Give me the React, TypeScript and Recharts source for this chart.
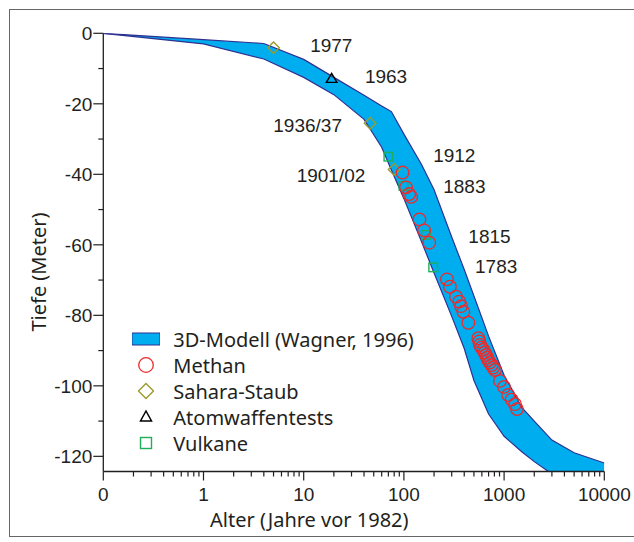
import { ComposedChart, Area, Scatter, XAxis, YAxis, Legend, Label } from "recharts";

// 3D model band: age (years before 1982) with shallow and deep edge of depth (m)
const bandAges = [0, 1, 4, 10, 20, 40, 60, 75, 100, 150, 200, 300, 400, 500, 700, 1000, 1500, 2000, 3000, 5000, 10000];
const bandTop = [0, -1.8, -2.9, -7.4, -12.5, -17.6, -20.6, -22.2, -28.6, -37.2, -44.4, -57.8, -67.0, -74.5, -85.9, -97.0, -106.1, -110.0, -115.4, -119.0, -121.9];
const bandBottom = [0, -3.0, -7.3, -12.5, -17.4, -24.4, -32.3, -38.8, -46.9, -59.1, -68.0, -80.3, -89.4, -98.5, -108.0, -114.3, -118.7, -121.5, -125.0, -128.0, -131.0];

const methanAges = [97, 105, 113, 118, 143, 159, 179, 269, 288, 331, 357, 372, 392, 440, 553, 565, 575, 595, 620, 640, 660, 680, 695, 720, 752, 780, 811, 910, 998, 1100, 1190, 1285, 1345];
const methanDepths = [-39.5, -43.7, -45.6, -46.4, -52.8, -55.9, -59.4, -69.8, -71.9, -74.7, -76.1, -77.4, -79.0, -82.1, -86.5, -87.4, -88.4, -89.1, -89.8, -90.6, -91.3, -92.0, -92.7, -93.4, -94.1, -94.8, -95.5, -98.6, -100.3, -102.6, -103.9, -105.2, -106.6];

const saharaAges = [5, 46, 80];
const saharaDepths = [-4.1, -25.5, -38.6];

const atomAges = [19];
const atomDepths = [-12.8];

const vulkanAges = [70, 99, 166, 196];
const vulkanDepths = [-35.0, -43.3, -57.2, -66.4];

// year annotations (anchor = left end of text baseline)
const yearTexts = ["1977", "1963", "1936/37", "1912", "1901/02", "1883", "1815", "1783"];
const yearAges = [11.6, 40.8, 4.97, 196, 8.5, 247, 440, 513];
const yearDepths = [-5.4, -14.2, -27.9, -36.4, -42.1, -45.4, -59.6, -68.1];

const xMajor = [0, 1, 10, 100, 1000, 10000];
const yTicks = [0, -10, -20, -30, -40, -50, -60, -70, -80, -90, -100, -110, -120];

// age 0 sits one decade left of 1 on the log axis
const ZERO_AGE = 0.1;
const toAxis = (a: number) => (a === 0 ? ZERO_AGE : a);

const bandData = bandAges.map((a, i) => ({ age: toAxis(a), band: [bandBottom[i], bandTop[i]] }));
const pts = (ages: number[], depths: number[]) => ages.map((a, i) => ({ age: a, depth: depths[i] }));
const methanData = pts(methanAges, methanDepths);
const saharaData = pts(saharaAges, saharaDepths);
const atomData = pts(atomAges, atomDepths);
const vulkanData = pts(vulkanAges, vulkanDepths);
const yearData = yearTexts.map((t, i) => ({ age: yearAges[i], depth: yearDepths[i], text: t }));

const xTicks: number[] = [];
xMajor.map(toAxis).forEach((m, i, arr) => {
  xTicks.push(m);
  if (i < arr.length - 1) for (let k = 2; k <= 9; k++) xTicks.push(m * k);
});

const INK = "#231f20";
const ARIAL = "'Liberation Sans', Arial, Helvetica, sans-serif";
const SANS = "'Noto Sans', 'Open Sans', sans-serif";
const RED = "#ee2a2a";
const OLIVE = "#9a9a2e";
const GREEN = "#1fae5a";

const isMajor = (v: number) => Math.abs(Math.log10(v) - Math.round(Math.log10(v))) < 1e-6;

const XTick = (props: any) => {
  const { x, y, payload } = props;
  const v = payload.value;
  const major = isMajor(v);
  return (
    <g>
      <line x1={x} x2={x} y1={y} y2={y + (major ? 9 : 5)} stroke={INK} strokeWidth={1.2} />
      {major && (
        <text x={x} y={y + 29} textAnchor="middle" fontFamily={ARIAL} fontSize={19} fill={INK}>
          {Math.abs(v - ZERO_AGE) < 1e-9 ? "0" : String(Math.round(v))}
        </text>
      )}
    </g>
  );
};

const YTick = (props: any) => {
  const { x, y, payload } = props;
  const v = payload.value;
  const major = v % 20 === 0;
  return (
    <g>
      <line x1={x} x2={x - (major ? 10 : 5)} y1={y} y2={y} stroke={INK} strokeWidth={1.2} />
      {major && (
        <text x={x - 11} y={y + 7} textAnchor="end" fontFamily={ARIAL} fontSize={19} fill={INK}>
          {v}
        </text>
      )}
    </g>
  );
};

const Circle = ({ cx, cy }: any) => <circle cx={cx} cy={cy} r={6.3} fill="none" stroke={RED} strokeWidth={1.3} />;
const Diamond = ({ cx, cy }: any) => (
  <path d={`M${cx},${cy - 5.8}L${cx + 5.8},${cy}L${cx},${cy + 5.8}L${cx - 5.8},${cy}Z`} fill="none" stroke={OLIVE} strokeWidth={1.4} />
);
const Triangle = ({ cx, cy }: any) => (
  <path d={`M${cx},${cy - 5}L${cx + 5.3},${cy + 4}L${cx - 5.3},${cy + 4}Z`} fill="none" stroke="#000" strokeWidth={1.4} />
);
const Square = ({ cx, cy }: any) => (
  <rect x={cx - 4.3} y={cy - 4.3} width={8.6} height={8.6} fill="none" stroke={GREEN} strokeWidth={1.4} />
);
const YearText = ({ cx, cy, payload }: any) => (
  <text x={cx} y={cy} fontFamily={ARIAL} fontSize={19} fill={INK}>
    {payload.text}
  </text>
);

const legendItems = [
  { name: "3D-Modell (Wagner, 1996)", icon: <rect x={0} y={7} width={28} height={12} fill="#00aeef" stroke="#2e3192" strokeWidth={1} /> },
  { name: "Methan", icon: <circle cx={14} cy={13} r={7.3} fill="none" stroke={RED} strokeWidth={1.3} /> },
  { name: "Sahara-Staub", icon: <path d="M14,5.5L21.5,13L14,20.5L6.5,13Z" fill="none" stroke={OLIVE} strokeWidth={1.4} /> },
  { name: "Atomwaffentests", icon: <path d="M14,7L19.5,17L8.5,17Z" fill="none" stroke="#000" strokeWidth={1.5} /> },
  { name: "Vulkane", icon: <rect x={8.5} y={7.5} width={11} height={11} fill="none" stroke={GREEN} strokeWidth={1.4} /> },
];

const renderLegend = () => (
  <div style={{ fontFamily: SANS, fontSize: 20, color: INK }}>
    {legendItems.map((it) => (
      <div key={it.name} style={{ display: "flex", alignItems: "center", height: 26 }}>
        <svg width={28} height={26} style={{ marginRight: 13.6 }}>
          {it.icon}
        </svg>
        <span style={{ whiteSpace: "nowrap" }}>{it.name}</span>
      </div>
    ))}
  </div>
);

export default function App() {
  return (
    <div
      style={{
        position: "absolute",
        left: 9,
        top: 9,
        width: 625,
        height: 528,
        boxSizing: "border-box",
        border: "1px solid #666",
        borderRight: "none",
        background: "#fff",
      }}
    >
      <ComposedChart
        width={624}
        height={526}
        data={bandData}
        margin={{ top: 23.3, right: 29.7, bottom: 24, left: 33.3 }}
      >
        <XAxis
          dataKey="age"
          type="number"
          scale="log"
          domain={[ZERO_AGE, 10000]}
          allowDataOverflow
          ticks={xTicks}
          interval={0}
          tick={<XTick />}
          tickLine={false}
          tickSize={0}
          tickMargin={0}
          height={40.5}
          axisLine={{ stroke: INK, strokeWidth: 1.3 }}
          label={
            <Label
              content={() => (
                <text x={200} y={516.7} fontFamily={SANS} fontSize={20} fill={INK}>
                  Alter (Jahre vor 1982)
                </text>
              )}
            />
          }
        />
        <YAxis
          type="number"
          domain={[-124.3, 0]}
          allowDataOverflow
          ticks={yTicks}
          interval={0}
          tick={<YTick />}
          tickLine={false}
          tickSize={0}
          tickMargin={0}
          width={60}
          axisLine={{ stroke: INK, strokeWidth: 1.3 }}
          label={
            <Label
              content={() => (
                <text
                  x={36}
                  y={262}
                  transform="rotate(-90 36 262)"
                  textAnchor="middle"
                  fontFamily={SANS}
                  fontSize={20}
                  fill={INK}
                >
                  Tiefe (Meter)
                </text>
              )}
            />
          }
        />
        <Area
          type="linear"
          dataKey="band"
          fill="#00aeef"
          fillOpacity={1}
          stroke="#2e3192"
          strokeWidth={1.2}
          dot={false}
          activeDot={false}
          isAnimationActive={false}
        />
        <Scatter data={yearData} dataKey="depth" shape={<YearText />} isAnimationActive={false} />
        <Scatter data={vulkanData} dataKey="depth" shape={<Square />} isAnimationActive={false} />
        <Scatter data={saharaData} dataKey="depth" shape={<Diamond />} isAnimationActive={false} />
        <Scatter data={methanData} dataKey="depth" shape={<Circle />} isAnimationActive={false} />
        <Scatter data={atomData} dataKey="depth" shape={<Triangle />} isAnimationActive={false} />
        <Legend
          layout="horizontal"
          verticalAlign="middle"
          align="center"
          content={renderLegend}
          wrapperStyle={{ left: 121.7, top: 316.3, width: 320, height: 130 }}
        />
      </ComposedChart>
    </div>
  );
}
